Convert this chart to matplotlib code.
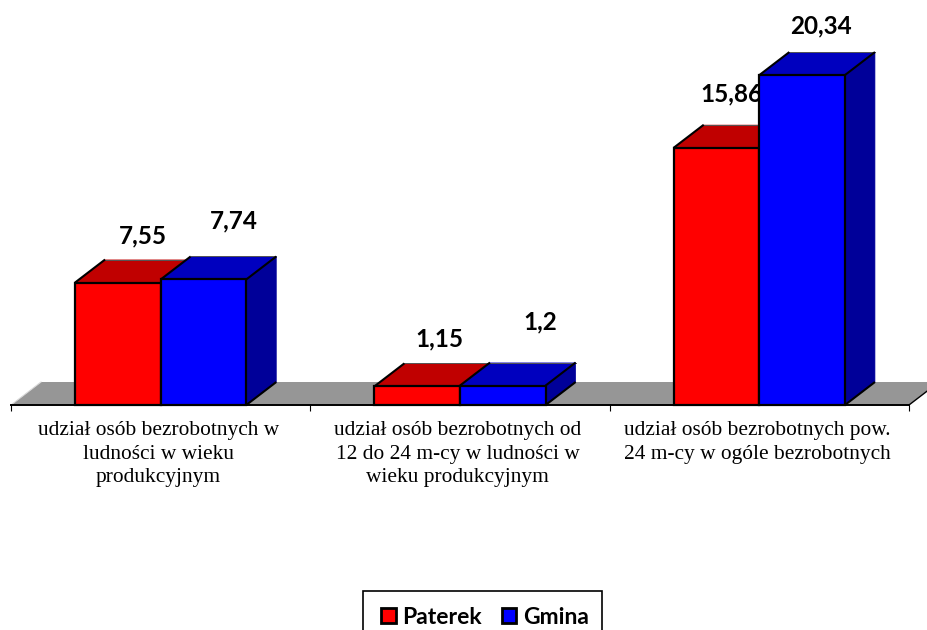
import matplotlib
matplotlib.use("Agg")
import matplotlib.pyplot as plt
from matplotlib.patches import Polygon, Rectangle, Patch

categories = [
    "udział osób bezrobotnych w\nludności w wieku\nprodukcyjnym",
    "udział osób bezrobotnych od\n12 do 24 m-cy w ludności w\nwieku produkcyjnym",
    "udział osób bezrobotnych pow.\n24 m-cy w ogóle bezrobotnych",
]
series_names = ["Paterek", "Gmina"]
paterek = [7.55, 1.15, 15.86]
gmina = [7.74, 1.2, 20.34]
paterek_labels = ["7,55", "1,15", "15,86"]
gmina_labels = ["7,74", "1,2", "20,34"]

W, H = 928, 630
X0, X1, Y0 = 11, 909, 405
PX_PER_UNIT = 16.22
DX_PX, DY_PX = 30, 23

fig = plt.figure(figsize=(W / 100, H / 100), dpi=100, facecolor="white")
ax = fig.add_axes([X0 / W, (H - Y0) / H, (X1 - X0) / W, Y0 / H])
ax.set_xlim(0, 3)
ax.set_ylim(0, Y0 / PX_PER_UNIT)
ax.patch.set_alpha(0)
for s in ("top", "left", "right"):
    ax.spines[s].set_visible(False)
ax.spines["bottom"].set_linewidth(1.4)
ax.spines["bottom"].set_zorder(2)
ax.set_yticks([])
ax.set_xticks([0, 1, 2, 3])
ax.set_xticklabels([])
ax.tick_params(axis="x", length=4.5, width=0.8, color="black")

dx = DX_PX * 3 / (X1 - X0)
dy = DY_PX / PX_PER_UNIT
bw = 85.6 * 3 / (X1 - X0)

# floor
ax.add_patch(Polygon([(0, 0), (dx, dy), (3 + dx, dy), (3, 0)], closed=True,
                     facecolor="#969696", edgecolor="none", zorder=1, clip_on=False))
ax.plot([0, dx], [0, dy], color="#d9d9d9", lw=0.8, zorder=1.1, clip_on=False)
ax.plot([3, 3 + dx], [0, dy], color="black", lw=1.0, zorder=1.1, clip_on=False)


def bar3d(x, v, front, top, side, z):
    r = x + bw
    ax.add_patch(Polygon([(r, 0), (r + dx, dy), (r + dx, v + dy), (r, v)], closed=True,
                         facecolor=side, edgecolor=side, linewidth=0.5, clip_on=False, zorder=z))
    ax.add_patch(Polygon([(x, v), (x + dx, v + dy), (r + dx, v + dy), (r, v)], closed=True,
                         facecolor=top, edgecolor="none", clip_on=False, zorder=z))
    ax.plot([x + dx, r + dx], [v + dy, v + dy], color="#555555", lw=0.7, zorder=z, clip_on=False)
    black = dict(color="black", lw=1.5, zorder=z, clip_on=False, solid_capstyle="butt")
    ax.plot([x, x + dx], [v, v + dy], **black)
    ax.plot([r, r + dx], [v, v + dy], **black)
    ax.plot([r, r + dx], [0, dy], **black)
    ax.add_patch(Rectangle((x, 0), bw, v, facecolor=front, edgecolor="black",
                           linewidth=1.6, clip_on=False, zorder=z))


for i in range(3):
    base = i + 0.5 - bw
    bar3d(base, paterek[i], "#FF0000", "#C00000", "#990000", 3 + i * 2)
    bar3d(base + bw, gmina[i], "#0000FF", "#0000BF", "#000099", 4 + i * 2)

# value labels, placed by hand in the source chart (pixel offset from bar's front-top centre)
pat_off = [(25, 47), (22, 47), (15, 54)]
gmi_off = [(30, 59), (37, 64), (19, 49)]
lab = dict(ha="center", va="center", family="Lato", fontweight="bold", fontsize=17.5,
           color="black", clip_on=False)
for i in range(3):
    base = i + 0.5 - bw
    ax.text(base + bw / 2 + pat_off[i][0] * 3 / (X1 - X0), paterek[i] + pat_off[i][1] / PX_PER_UNIT,
            paterek_labels[i], zorder=3.5 + i * 2, **lab)
    ax.text(base + 1.5 * bw + gmi_off[i][0] * 3 / (X1 - X0), gmina[i] + gmi_off[i][1] / PX_PER_UNIT,
            gmina_labels[i], zorder=10, **lab)

# category labels
for i, c in enumerate(categories):
    ax.annotate(c, xy=(i + 0.5, 0), xycoords="data", xytext=(-1.5, -11.5), textcoords="offset points",
                ha="center", va="top", family="Liberation Serif", fontsize=15.4,
                linespacing=1.33, color="black", annotation_clip=False)

# legend
fig.add_artist(Rectangle((363 / W, -0.02), 239 / W, (H - 591) / H + 0.02, transform=fig.transFigure,
                         facecolor="white", edgecolor="black", linewidth=1.2))
handles = [Patch(facecolor="#FF0000", edgecolor="black", linewidth=2.0),
           Patch(facecolor="#0000FF", edgecolor="black", linewidth=2.0)]
fig.legend(handles, series_names, loc="center", bbox_to_anchor=(485 / W, (H - 617) / H),
           ncol=2, frameon=False, handlelength=0.62, handleheight=0.62, handletextpad=0.3,
           columnspacing=0.85, prop={"family": "Lato", "weight": "bold", "size": 16.5})

fig.savefig("out.png", dpi=100)
